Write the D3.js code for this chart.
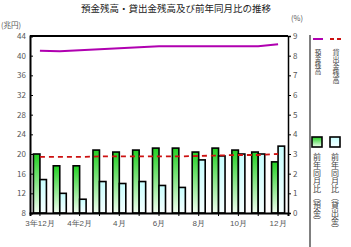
<!DOCTYPE html>
<html><head><meta charset="utf-8">
<script src="https://cdn.jsdelivr.net/npm/d3@7"></script>
<style>
body{margin:0;background:#fff;}
svg{font-family:"Noto Sans CJK JP","Noto Sans",sans-serif;}
</style></head>
<body><svg id="c" width="351" height="247"></svg>
<script>
const categories = ["3年12月","4年1月","4年2月","4年3月","4年4月","4年5月","4年6月","4年7月","4年8月","4年9月","4年10月","4年11月","4年12月"];
const tickLabels = ["3年12月","","4年2月","","4月","","6月","","8月","","10月","","12月"];
const depositBalance = [41.0,40.9,41.1,41.3,41.5,41.7,41.9,41.9,41.9,41.9,41.9,41.9,42.3];
const loanBalance = [19.4,19.4,19.4,19.5,19.5,19.5,19.5,19.5,19.6,19.7,19.8,19.8,20.0];
const depositYoY = [3.0,2.4,2.4,3.2,3.1,3.2,3.3,3.3,3.1,3.3,3.2,3.1,2.6];
const loanYoY = [1.7,1.0,0.7,1.6,1.5,1.6,1.4,1.3,2.7,2.9,3.0,3.0,3.4];
const leftTicks = [8,12,16,20,24,28,32,36,40,44];
const rightTicks = [0,1,2,3,4,5,6,7,8,9];

const svg = d3.select("#c");
const L=30,R=288,T=36,B=213;
const x = d3.scaleBand().domain(categories).range([L,R]);
const yL = d3.scaleLinear().domain([8,44]).range([B,T]);
const yR = d3.scaleLinear().domain([0,9]).range([B,T]);

const defs = svg.append("defs");
const g1 = defs.append("linearGradient").attr("id","gg").attr("x1",0).attr("y1",0).attr("x2",0).attr("y2",1);
g1.append("stop").attr("offset","0%").attr("stop-color","#22d022");
g1.append("stop").attr("offset","100%").attr("stop-color","#f2fff2");
const g2 = defs.append("linearGradient").attr("id","gc").attr("x1",0).attr("y1",0).attr("x2",0).attr("y2",1);
g2.append("stop").attr("offset","0%").attr("stop-color","#c8ffff");
g2.append("stop").attr("offset","100%").attr("stop-color","#f6ffff");

// title
svg.append("text").attr("x",176).attr("y",12).attr("text-anchor","middle")
  .attr("font-size",9.5).attr("fill","#222").text("預金残高・貸出金残高及び前年同月比の推移");
svg.append("text").attr("x",1).attr("y",28).attr("font-size",7.5).attr("fill","#555").text("(兆円)");
svg.append("text").attr("x",291).attr("y",21).attr("font-size",7.5).attr("fill","#555").text("(%)");

const bw = 6.5;
const c = d => x(d)+x.bandwidth()/2;
// bars
svg.append("g").selectAll("rect").data(categories).join("rect")
  .attr("x",(d)=>c(d)-bw).attr("width",bw)
  .attr("y",(d,i)=>yR(depositYoY[i])).attr("height",(d,i)=>B-yR(depositYoY[i]))
  .attr("fill","url(#gg)").attr("stroke","#000").attr("stroke-width",1.6);
svg.append("g").selectAll("rect").data(categories).join("rect")
  .attr("x",(d)=>c(d)).attr("width",bw)
  .attr("y",(d,i)=>yR(loanYoY[i])).attr("height",(d,i)=>B-yR(loanYoY[i]))
  .attr("fill","url(#gc)").attr("stroke","#000").attr("stroke-width",1.6);

// lines
const line = d3.line().x((d,i)=>c(categories[i])).y(d=>yL(d));
svg.append("path").datum(depositBalance).attr("d",line).attr("fill","none")
  .attr("stroke","#b000b0").attr("stroke-width",2);
svg.append("path").datum(loanBalance).attr("d",line).attr("fill","none")
  .attr("stroke","#cc1111").attr("stroke-width",1.8).attr("stroke-dasharray","5,4");

// axes
const axL = svg.append("g").attr("transform",`translate(${L},0)`)
  .call(d3.axisRight(yL).tickValues(leftTicks).tickSize(3).tickFormat(""));
axL.select(".domain").attr("stroke-width",2);
svg.append("g").selectAll("text").data(leftTicks).join("text")
  .attr("x",26).attr("y",d=>yL(d)+3).attr("text-anchor","end")
  .attr("font-size",8).attr("fill","#555").text(d=>d);
const axR = svg.append("g").attr("transform",`translate(${R},0)`)
  .call(d3.axisRight(yR).tickValues(rightTicks).tickSize(3).tickFormat(""));
axR.select(".domain").attr("stroke-width",1.5);
axR.selectAll("text").remove();
svg.append("g").selectAll("text").data(rightTicks).join("text")
  .attr("x",293).attr("y",d=>yR(d)+3).attr("text-anchor","start")
  .attr("font-size",8).attr("fill","#555").text(d=>d);
const axB = svg.append("g").attr("transform",`translate(0,${B})`)
  .call(d3.axisBottom(x).tickSize(3).tickFormat((d,i)=>tickLabels[i]));
axB.select(".domain").attr("stroke-width",2);
axB.selectAll("text").attr("font-size",8).attr("fill","#555").attr("dy","0.9em");
svg.append("line").attr("x1",L).attr("x2",R).attr("y1",T).attr("y2",T).attr("stroke","#000").attr("stroke-width",2);

// legend
svg.append("line").attr("x1",310).attr("x2",310).attr("y1",35).attr("y2",247).attr("stroke","#000").attr("stroke-width",1);
svg.append("line").attr("x1",313).attr("x2",323).attr("y1",39).attr("y2",39).attr("stroke","#b000b0").attr("stroke-width",2);
svg.append("line").attr("x1",330).attr("x2",342).attr("y1",39).attr("y2",39).attr("stroke","#cc1111").attr("stroke-width",2).attr("stroke-dasharray","4,3");
const vt = (xx,yy,fs,t)=>svg.append("text").attr("x",xx).attr("y",yy).attr("font-size",fs).attr("fill","#444")
  .style("writing-mode","vertical-rl").text(t);
vt(318,49,6.5,"預金残高");
vt(336,49,7,"貸出金残高");
svg.append("rect").attr("x",312).attr("y",137).attr("width",10).attr("height",10).attr("fill","url(#gg)").attr("stroke","#000").attr("stroke-width",1.6);
svg.append("rect").attr("x",330).attr("y",137).attr("width",10).attr("height",10).attr("fill","url(#gc)").attr("stroke","#000").attr("stroke-width",1.6);
vt(317,153,8,"前年同月比（預金）");
vt(335,153,8,"前年同月比（貸出金）");
</script></body></html>
